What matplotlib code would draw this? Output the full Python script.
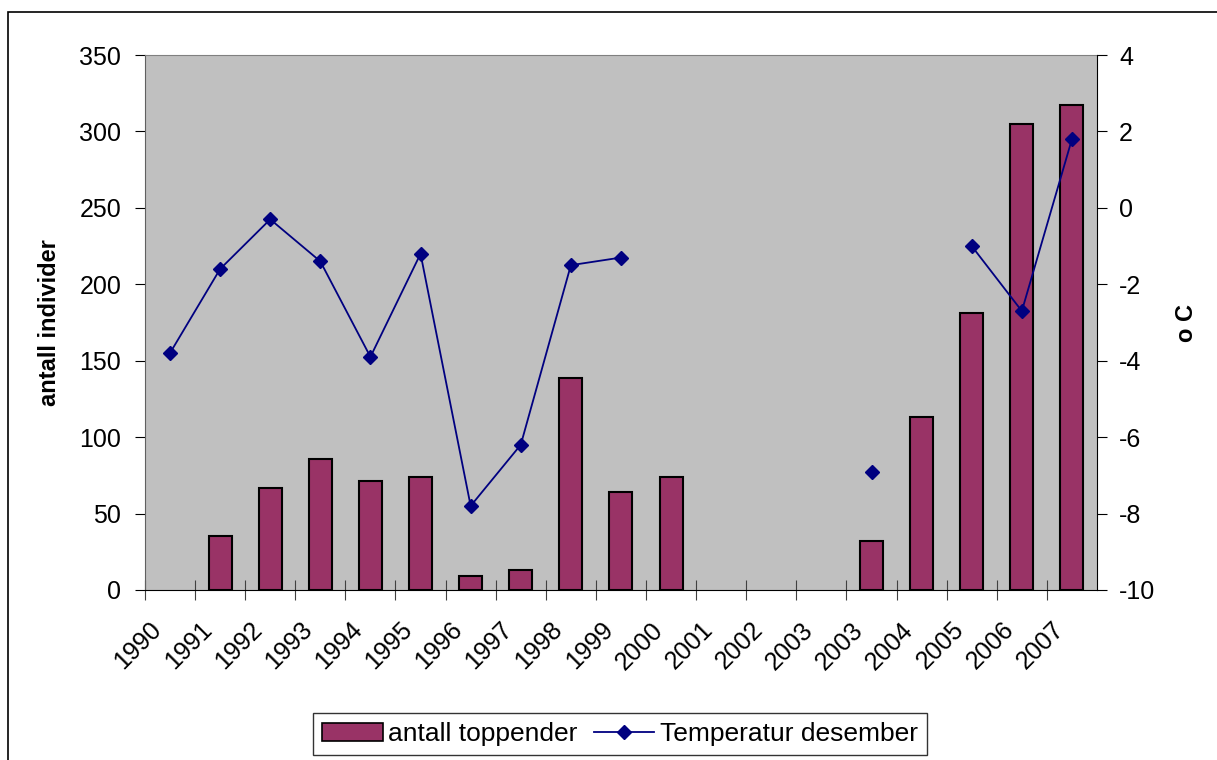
import matplotlib.pyplot as plt
import matplotlib.patches as mpatches
import matplotlib.transforms as mtransforms
import numpy as np

plt.rcParams['font.family'] = ['Liberation Sans', 'DejaVu Sans']
plt.rcParams['axes.unicode_minus'] = False

# kategorier (2003 står to ganger på aksen)
aar = ['1990', '1991', '1992', '1993', '1994', '1995', '1996', '1997', '1998',
       '1999', '2000', '2001', '2002', '2003', '2003', '2004', '2005', '2006',
       '2007']
toppender = [np.nan, 35, 67, 86, 71, 74, 9, 13, 139, 64, 74, np.nan, np.nan,
             np.nan, 32, 113, 181, 305, 317]
temperatur = [-3.8, -1.6, -0.3, -1.4, -3.9, -1.2, -7.8, -6.2, -1.5, -1.3,
              np.nan, np.nan, np.nan, np.nan, -6.9, np.nan, -1.0, -2.7, 1.8]

x = np.arange(len(aar))

fig = plt.figure(figsize=(12.17, 7.6), dpi=100)
ax = fig.add_axes([0.1191, 0.2237, 0.7823, 0.7039])
ax.set_facecolor('#C0C0C0')

ax.bar(x, toppender, width=0.46, color='#993366', edgecolor='black',
       linewidth=1.5, zorder=2)
ax.set_xlim(-0.5, len(aar) - 0.5)
ax.set_ylim(0, 350)
ax.set_yticks(np.arange(0, 351, 50))
ax.set_ylabel('antall individer', fontsize=17, fontweight='bold', labelpad=13)

# årstall mellom tikkene
ax.set_xticks(x - 0.5, minor=False)
ax.set_xticklabels([])
ax.set_xticks(x, minor=True)
ax.set_xticklabels(aar, minor=True, rotation=45, ha='right', va='center',
                   rotation_mode='anchor', fontsize=18)
ax.tick_params(axis='x', which='major', direction='inout', length=14,
               color='#404040')
ax.tick_params(axis='x', which='minor', length=0, pad=26)
skift = mtransforms.ScaledTranslation(-0.12, 0, fig.dpi_scale_trans)
for lbl in ax.get_xticklabels(minor=True):
    lbl.set_transform(lbl.get_transform() + skift)
ax.tick_params(axis='y', direction='out', length=7, labelsize=18, pad=10)

ax.spines['top'].set_color('#808080')
ax.spines['left'].set_color('#606060')
ax.spines['right'].set_visible(False)

ax2 = ax.twinx()
ax2.plot(x, temperatur, color='#000080', marker='D', markersize=7,
         linewidth=1.3, zorder=3)
ax2.set_ylim(-10, 4)
ax2.set_yticks(np.arange(-10, 5, 2))
ax2.tick_params(axis='y', direction='out', length=7, labelsize=18, pad=9)
ax2.set_ylabel('o C', fontsize=17, fontweight='bold', labelpad=14)
for s in ['top', 'left', 'bottom']:
    ax2.spines[s].set_visible(False)

# tegnflatens ramme
fig.patches.append(mpatches.Rectangle((8 / 1217, -0.1), 1.2, 1.1 - 12 / 760,
                                      transform=fig.transFigure,
                                      fill=False, edgecolor='black',
                                      linewidth=1.2))

h1 = mpatches.Patch(facecolor='#993366', edgecolor='black', linewidth=1.2,
                    label='antall toppender')
h2 = plt.Line2D([], [], color='#000080', marker='D', markersize=7,
                linewidth=1.3, label='Temperatur desember')
leg = fig.legend(handles=[h1, h2], loc='center', ncol=2,
                 bbox_to_anchor=(620 / 1217, 1 - 734 / 760), fontsize=19,
                 frameon=True, fancybox=False, edgecolor='black',
                 handlelength=2.3, handletextpad=0.2, columnspacing=0.6,
                 borderpad=0.35, borderaxespad=0)
leg.get_frame().set_linewidth(1.0)

fig.savefig('out.png', dpi=100)
